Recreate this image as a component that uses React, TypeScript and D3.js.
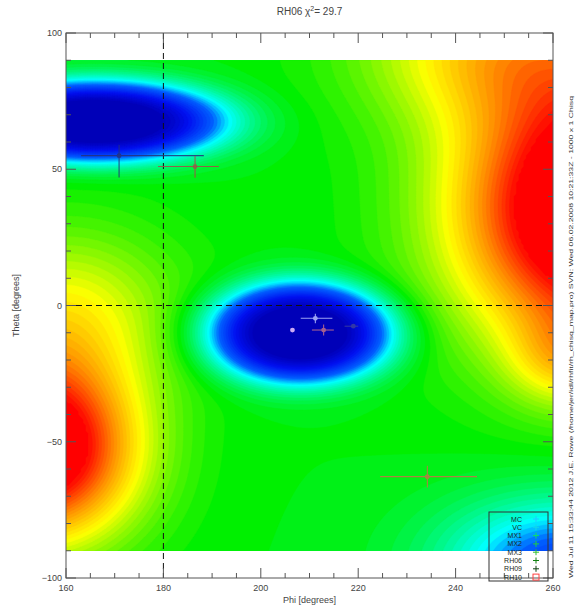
import React, { useMemo } from 'react';
import * as d3 from 'd3';

// Axis ranges and tick values
const PHI_DOMAIN: [number, number] = [160, 260];
const THETA_DOMAIN: [number, number] = [-100, 100];
const MAP_THETA: [number, number] = [-90, 90];
const PHI_MAJOR = [160, 180, 200, 220, 240, 260];
const THETA_MAJOR = [-100, -50, 0, 50, 100];
const PHI_MINOR_STEP = 5;
const THETA_MINOR_STEP = 10;

// Chi-square surface: a base level plus minima / maxima components
const BASE_LEVEL = 0.5;
const FEAT_PHI = [166, 208, 270, 250, 262, 154, 160, 262];
const FEAT_THETA = [67.5, -10, 35, 95, -20, -53, -3, -95];
const FEAT_AMP = [-0.56, -0.56, 0.75, 0.25, 0.15, 0.65, 0.2, -0.32];
const FEAT_SPHI = [21.5, 15.5, 20, 20, 8, 14, 16, 17];
const FEAT_STHETA = [12, 15, 34, 20, 12, 23, 22, 17];
const FEAT_POWER = [3, 3, 2, 2, 2, 2, 2, 2];

// Rainbow colour table
const COLOR_STOPS = [0, 0.1, 0.22, 0.3, 0.5, 0.7, 0.85, 1];
const COLOR_VALUES = ['#0000b8', '#0010f0', '#0060ff', '#00ffff', '#00f000', '#ffff00', '#ff8c00', '#ff0000'];

// Measured directions with error ranges
const MEAS_PHI = [170.9, 186.5, 206.5, 212.9, 211.2, 219.0, 234.2];
const MEAS_THETA = [55.0, 51.0, -9.0, -9.0, -4.7, -7.6, -62.8];
const MEAS_PHI_LO = [163.1, 178.9, 206.5, 210.5, 208.2, 217.2, 224.5];
const MEAS_PHI_HI = [188.3, 191.4, 206.5, 215.0, 214.7, 220.0, 244.4];
const MEAS_THETA_LO = [47.0, 46.9, -9.0, -11.0, -6.5, -7.6, -66.8];
const MEAS_THETA_HI = [59.0, 54.9, -9.0, -7.0, -3.0, -7.6, -58.8];
const MEAS_COLOR = ['#26307a', '#a84a4a', '#f0c8ff', '#c0708a', '#b8c0ff', '#3a40a0', '#c8704a'];

// Legend entries
const LEGEND_LABELS = ['MC', 'VC', 'MX1', 'MX2', 'MX3', 'RH06', 'RH09', 'RH10'];
const LEGEND_COLORS = ['#20c8ff', '#10d8e8', '#10e060', '#20d040', '#30c030', '#108010', '#104010', '#ff4040'];

const TITLE_CHI2 = '29.7';
const SIDE_NOTE =
  'Wed Jul 11 15:33:44 2012   J.E. Rowe   (/home/jer/idl/rhfit/rh_chisq_map.pro)   SVN: Wed 06.02.2008 10:21:33Z  -  1000 x 1 Chisq';

const W = 583;
const H = 607;

export default function App() {
  const x = d3.scaleLinear().domain(PHI_DOMAIN).range([66, 553]);
  const y = d3.scaleLinear().domain(THETA_DOMAIN).range([578, 33]);

  const color = d3
    .scaleLinear<string>()
    .domain(COLOR_STOPS)
    .range(COLOR_VALUES)
    .interpolate(d3.interpolateRgb)
    .clamp(true);

  const nx = 201;
  const ny = 181;

  const bands = useMemo(() => {
    const values = new Array(nx * ny);
    for (let j = 0; j < ny; j++) {
      const th = MAP_THETA[1] - (j * (MAP_THETA[1] - MAP_THETA[0])) / (ny - 1);
      for (let i = 0; i < nx; i++) {
        const ph = PHI_DOMAIN[0] + (i * (PHI_DOMAIN[1] - PHI_DOMAIN[0])) / (nx - 1);
        let v = BASE_LEVEL;
        for (let k = 0; k < FEAT_PHI.length; k++) {
          const dp = (ph - FEAT_PHI[k]) / FEAT_SPHI[k];
          const dt = (th - FEAT_THETA[k]) / FEAT_STHETA[k];
          const r = Math.sqrt(dp * dp + dt * dt);
          v += FEAT_AMP[k] * Math.exp(-0.5 * Math.pow(r, FEAT_POWER[k]));
        }
        values[j * nx + i] = Math.max(0, Math.min(1, v));
      }
    }
    const thresholds = d3.range(0, 1.0001, 1 / 56);
    return d3.contours().size([nx, ny]).thresholds(thresholds)(values);
  }, []);

  const mapX0 = x(PHI_DOMAIN[0]);
  const mapX1 = x(PHI_DOMAIN[1]);
  const mapY0 = y(MAP_THETA[1]);
  const mapY1 = y(MAP_THETA[0]);
  const cellW = (mapX1 - mapX0) / (nx - 1);
  const cellH = (mapY1 - mapY0) / (ny - 1);

  const path = d3.geoPath(
    d3.geoTransform({
      point(px: number, py: number) {
        (this as any).stream.point(mapX0 + (px - 0.5) * cellW, mapY0 + (py - 0.5) * cellH);
      },
    })
  );

  const plotL = x(PHI_DOMAIN[0]);
  const plotR = x(PHI_DOMAIN[1]);
  const plotT = y(THETA_DOMAIN[1]);
  const plotB = y(THETA_DOMAIN[0]);

  const phiMinor = d3.range(PHI_DOMAIN[0], PHI_DOMAIN[1] + 0.001, PHI_MINOR_STEP);
  const thetaMinor = d3.range(THETA_DOMAIN[0], THETA_DOMAIN[1] + 0.001, THETA_MINOR_STEP);

  const axisColor = '#555';
  const textColor = '#444';
  const font = 'Liberation Sans, Arial, sans-serif';

  const legX0 = 489;
  const legY0 = 512;
  const legRow = 8.3;

  return (
    <svg width={W} height={H} style={{ position: 'absolute', left: 0, top: 0, background: '#fff' }}>
      <defs>
        <clipPath id="mapClip">
          <rect x={mapX0} y={mapY0} width={mapX1 - mapX0} height={mapY1 - mapY0} />
        </clipPath>
      </defs>

      {/* filled chi-square contours */}
      <g clipPath="url(#mapClip)">
        {bands.map((b, i) => (
          <path key={i} d={path(b as any) || ''} fill={color(b.value)} stroke={color(b.value)} strokeWidth={0.4} />
        ))}
      </g>

      {/* reference lines */}
      <line x1={x(180)} x2={x(180)} y1={plotT} y2={plotB} stroke="#111" strokeWidth={1} strokeDasharray="6,4" />
      <line x1={plotL} x2={plotR} y1={y(0)} y2={y(0)} stroke="#111" strokeWidth={1} strokeDasharray="6,4" />

      {/* measurements with error bars */}
      {MEAS_PHI.map((p, i) => (
        <g key={i} stroke={MEAS_COLOR[i]} strokeWidth={1.1} opacity={0.85}>
          <line x1={x(MEAS_PHI_LO[i])} x2={x(MEAS_PHI_HI[i])} y1={y(MEAS_THETA[i])} y2={y(MEAS_THETA[i])} />
          <line x1={x(p)} x2={x(p)} y1={y(MEAS_THETA_LO[i])} y2={y(MEAS_THETA_HI[i])} />
          <circle cx={x(p)} cy={y(MEAS_THETA[i])} r={2.4} fill={MEAS_COLOR[i]} stroke="none" />
        </g>
      ))}

      {/* frame */}
      <rect x={plotL} y={plotT} width={plotR - plotL} height={plotB - plotT} fill="none" stroke={axisColor} strokeWidth={1} />

      {/* ticks on all four sides, pointing inward */}
      <g stroke={axisColor} strokeWidth={1}>
        {phiMinor.map((v) => {
          const len = PHI_MAJOR.includes(v) ? 10 : 5;
          return (
            <g key={'px' + v}>
              <line x1={x(v)} x2={x(v)} y1={plotB} y2={plotB - len} />
              <line x1={x(v)} x2={x(v)} y1={plotT} y2={plotT + len} />
            </g>
          );
        })}
        {thetaMinor.map((v) => {
          const len = THETA_MAJOR.includes(v) ? 10 : 5;
          return (
            <g key={'ty' + v}>
              <line x1={plotL} x2={plotL + len} y1={y(v)} y2={y(v)} />
              <line x1={plotR} x2={plotR - len} y1={y(v)} y2={y(v)} />
            </g>
          );
        })}
      </g>

      {/* tick labels */}
      <g fontFamily={font} fontSize={9} fill={textColor}>
        {PHI_MAJOR.map((v) => (
          <text key={'xl' + v} x={x(v)} y={plotB + 13} textAnchor="middle">
            {v}
          </text>
        ))}
        {THETA_MAJOR.map((v) => (
          <text key={'yl' + v} x={plotL - 4} y={y(v) + 3} textAnchor="end">
            {v < 0 ? '\u2212' + Math.abs(v) : v}
          </text>
        ))}
      </g>

      {/* axis titles */}
      <text x={(plotL + plotR) / 2} y={H - 4} textAnchor="middle" fontFamily={font} fontSize={9} fill={textColor}>
        Phi [degrees]
      </text>
      <text
        transform={`translate(19, ${(plotT + plotB) / 2}) rotate(-90)`}
        textAnchor="middle"
        fontFamily={font}
        fontSize={9}
        fill={textColor}
      >
        Theta [degrees]
      </text>

      {/* title */}
      <text x={(plotL + plotR) / 2} y={15} textAnchor="middle" fontFamily={font} fontSize={10} fill={textColor}>
        RH06 {'\u03C7'}
        <tspan dy={-4} fontSize={7}>
          2
        </tspan>
        <tspan dy={4}>= {TITLE_CHI2}</tspan>
      </text>

      {/* legend */}
      <rect x={legX0} y={legY0} width={59} height={69} fill="none" stroke="#333" strokeWidth={1} />
      {LEGEND_LABELS.map((lab, i) => {
        const cy = legY0 + 7 + i * legRow;
        const sx = 536;
        return (
          <g key={lab}>
            <text x={522} y={cy + 2.5} textAnchor="end" fontFamily={font} fontSize={7} fill="#1a2a1a">
              {lab}
            </text>
            {lab === 'RH10' ? (
              <rect x={sx - 3} y={cy - 3} width={6} height={6} fill="none" stroke={LEGEND_COLORS[i]} strokeWidth={1} />
            ) : (
              <g stroke={LEGEND_COLORS[i]} strokeWidth={1}>
                <line x1={sx - 3} x2={sx + 3} y1={cy} y2={cy} />
                <line x1={sx} x2={sx} y1={cy - 3} y2={cy + 3} />
              </g>
            )}
          </g>
        );
      })}

      {/* run annotation along the right edge */}
      <text
        transform={`translate(573, 578) rotate(-90)`}
        fontFamily={font}
        fontSize={6}
        fill="#333"
        textLength={482}
        lengthAdjust="spacingAndGlyphs"
      >
        {SIDE_NOTE}
      </text>
    </svg>
  );
}
